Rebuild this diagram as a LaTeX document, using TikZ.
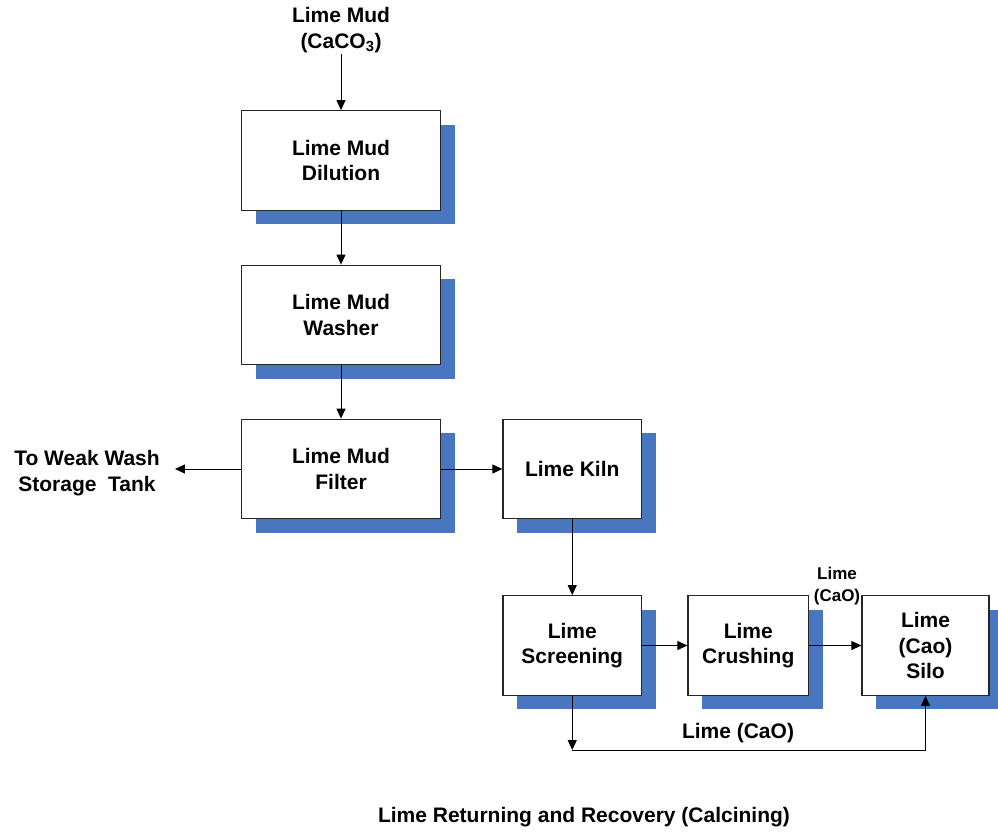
\documentclass[tikz,border=0pt]{standalone}
\usepackage{fontspec}
\setmainfont{Liberation Sans}
\usetikzlibrary{arrows.meta,shadows}
\definecolor{shadowblue}{RGB}{72,119,192}
\begin{document}
\begin{tikzpicture}[x=1pt,y=-1pt,
  every node/.style={font=\fontsize{21}{25.5}\selectfont\bfseries, align=center},
  box/.style={draw=black!85, line width=1.3pt, fill=white, inner sep=0pt,
    general shadow={fill=shadowblue, shadow xshift=14pt, shadow yshift=-14pt}},
  lbl/.style={inner sep=1pt},
  arr/.style={draw=black, line width=1pt, -{Triangle[length=10pt,width=9pt]}},
  ln/.style={draw=black, line width=1pt}]
\useasboundingbox (0,0) rectangle (998,831);
% nodes
\node[lbl] (in) at (341,30) {Lime Mud\\(CaCO\textsubscript{3})};
\node[box, minimum width=199pt, minimum height=99.5pt] (dil) at (341,160.5) {Lime Mud\\Dilution};
\node[box, minimum width=199pt, minimum height=99.5pt] (wash) at (341,315) {Lime Mud\\Washer};
\node[box, minimum width=199pt, minimum height=99.5pt] (filt) at (341,469) {Lime Mud\\Filter};
\node[box, minimum width=138.5pt, minimum height=99.5pt] (kiln) at (572.25,469) {Lime Kiln};
\node[box, minimum width=138.5pt, minimum height=99.5pt] (scr) at (572.25,645.5) {Lime\\Screening};
\node[box, minimum width=120.5pt, minimum height=99.5pt] (cru) at (748.25,645.5) {Lime\\Crushing};
\node[box, minimum width=127pt, minimum height=99.5pt] (silo) at (925.5,645.5) {Lime\\(Cao)\\Silo};
\node[lbl, inner xsep=15pt] (weak) at (87,473) {To Weak Wash\\Storage\ \ Tank};
\node[lbl, font=\fontsize{17}{22}\selectfont\bfseries] (lbla) at (837,586) {Lime\\(CaO)};
\node[lbl] (lblb) at (738,733) {Lime (CaO)};
\node[lbl] (title) at (584,817) {Lime Returning and Recovery (Calcining)};
\coordinate (corner) at (572.25,750);
% connectors
\draw[arr] (in) -- (dil);
\draw[arr] (dil) -- (wash);
\draw[arr] (wash) -- (filt);
\draw[arr] (filt.west) -- (filt.west -| weak.east);
\draw[arr] (filt) -- (kiln);
\draw[arr] (kiln) -- (scr);
\draw[arr] (scr) -- (cru);
\draw[arr] (cru) -- (silo);
\draw[arr] (scr.south) -- (corner);
\draw[arr] (corner) -| (silo.south);
\end{tikzpicture}
\end{document}
